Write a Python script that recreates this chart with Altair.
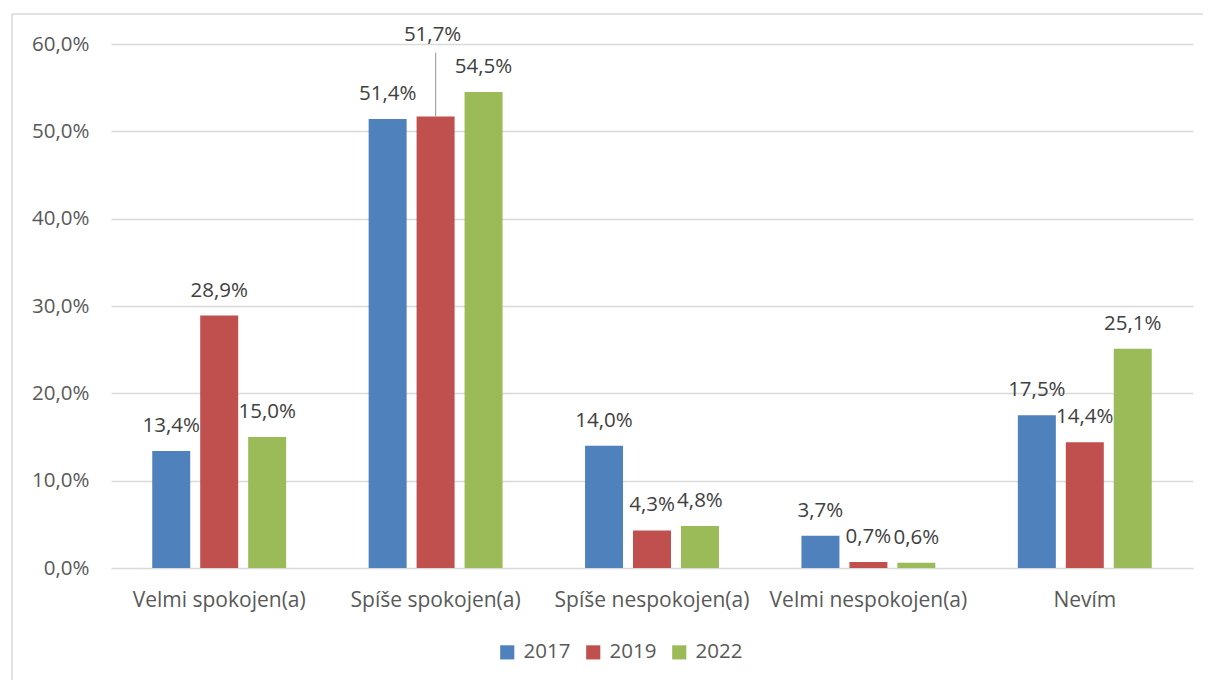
import altair as alt
import pandas as pd

categories = ["Velmi spokojen(a)", "Spíše spokojen(a)", "Spíše nespokojen(a)", "Velmi nespokojen(a)", "Nevím"]
years = ["2017", "2019", "2022"]
v2017 = [13.4, 51.4, 14.0, 3.7, 17.5]
v2019 = [28.9, 51.7, 4.3, 0.7, 14.4]
v2022 = [15.0, 54.5, 4.8, 0.6, 25.1]
colors = ["#4F81BD", "#C0504D", "#9BBB59"]
y_ticks = [0, 10, 20, 30, 40, 50, 60]

rows = []
for year, vals in zip(years, [v2017, v2019, v2022]):
    for c, v in zip(categories, vals):
        rows.append({"category": c, "year": year, "value": v,
                     "label": ("%.1f" % v).replace(".", ",") + "%"})
df = pd.DataFrame(rows)

FONT = "Open Sans"
FS = 20.5
W, H = 1082, 524

x = alt.X("category:N", sort=categories,
          scale=alt.Scale(paddingInner=0, paddingOuter=0),
          axis=alt.Axis(title=None, labelAngle=0, domain=False, ticks=False, grid=False,
                        labelPadding=21, labelFontSize=21, labelColor="#595959",
                        labelFont=FONT, labelLimit=0))
xoff = alt.XOffset("year:N", sort=years,
                   scale=alt.Scale(paddingInner=0.208, paddingOuter=0.86))
y = alt.Y("value:Q", scale=alt.Scale(domain=[0, 60], nice=False),
          axis=alt.Axis(title=None, values=y_ticks, domain=False, ticks=False,
                        gridColor="#d9d9d9", gridWidth=1.3, labelPadding=22,
                        labelFontSize=FS, labelColor="#595959", labelFont=FONT,
                        labelExpr="replace(format(datum.value, '.1f'), '.', ',') + '%'"))

base = alt.Chart(df)

bars = base.mark_bar().encode(
    x=x, xOffset=xoff, y=y,
    color=alt.Color("year:N", sort=years,
                    scale=alt.Scale(domain=years, range=colors),
                    legend=alt.Legend(title=None, orient="none", direction="horizontal",
                                      legendX=386, legendY=598, symbolType="square",
                                      symbolSize=200, symbolStrokeWidth=0,
                                      labelFontSize=FS, labelColor="#595959",
                                      labelFont=FONT, labelOffset=6,
                                      columnPadding=12)),
)

special = "datum.category == 'Spíše spokojen(a)' && datum.year == '2019'"

labels = base.transform_filter("!(" + special + ")").mark_text(
    baseline="middle", dy=-25, fontSize=FS, color="#404040", font=FONT
).encode(x=x, xOffset=xoff, y=y, text="label:N")

label_special = base.transform_filter(special).mark_text(
    baseline="middle", dy=-81, dx=-3, fontSize=FS, color="#404040", font=FONT
).encode(x=x, xOffset=xoff, y=y, text="label:N")

leader = base.transform_filter(special).mark_rule(
    color="#a6a6a6", strokeWidth=1.2, y2Offset=-64
).encode(x=x, xOffset=xoff, y=y, y2=alt.Y2("value:Q"))

frame = alt.Chart(pd.DataFrame({"a": [0]}))
border_top = frame.mark_rule(color="#d9d9d9", strokeWidth=1.5).encode(
    x=alt.value(-99), x2=alt.value(1300), y=alt.value(-30))
border_left = frame.mark_rule(color="#d9d9d9", strokeWidth=1.5).encode(
    x=alt.value(-99), y=alt.value(-30), y2=alt.value(700))

chart = alt.layer(border_top, border_left, bars, leader, labels, label_special).properties(
    width=W, height=H, background="white",
    padding={"left": 103, "top": 36, "right": 10, "bottom": 112},
    autosize=alt.AutoSizeParams(type="none"),
).configure_view(strokeWidth=0, stroke="transparent")

chart.save("out.html", embed_options={"renderer": "svg", "actions": False})
